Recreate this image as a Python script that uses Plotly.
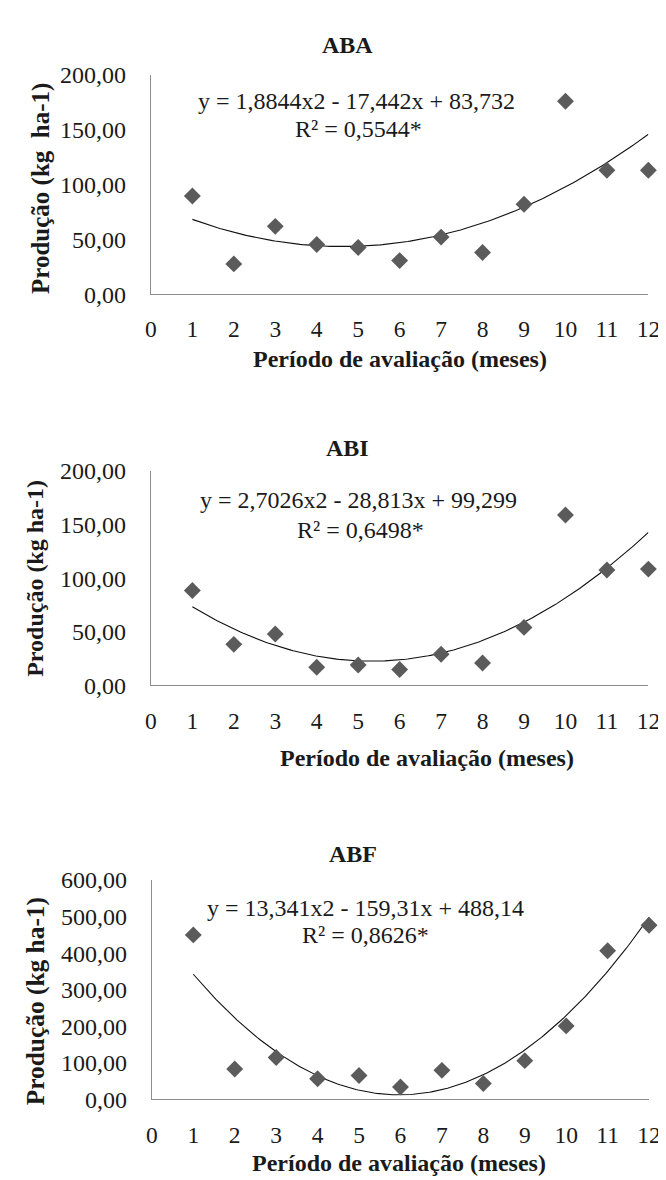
import numpy as np
import plotly.graph_objects as go

# ---------------- data ----------------
months = [1, 2, 3, 4, 5, 6, 7, 8, 9, 10, 11, 12]
aba = [89.5, 27.6, 61.8, 45.2, 42.5, 30.6, 52.0, 38.0, 82.0, 175.9, 112.9, 113.0]
abi = [88.5, 38.2, 47.9, 16.8, 18.9, 14.7, 29.0, 20.8, 54.0, 158.8, 107.5, 108.4]
abf = [449.8, 83.2, 114.5, 56.3, 65.3, 34.0, 79.5, 43.5, 106.0, 201.0, 406.5, 476.0]

# quadratic trend coefficients printed on the chart (a, b, c)
aba_coef = [1.8844, -17.442, 83.732]
abi_coef = [2.7026, -28.813, 99.299]
abf_coef = [13.341, -159.31, 488.14]

titles = ["ABA", "ABI", "ABF"]
equations = ["y = 1,8844x2 - 17,442x + 83,732",
             "y = 2,7026x2 - 28,813x + 99,299",
             "y = 13,341x2 - 159,31x + 488,14"]
r2_labels = ["R² = 0,5544*", "R² = 0,6498*", "R² = 0,8626*"]
y_titles = ["Produção (kg  ha-1)", "Produção (kg ha-1)", "Produção (kg ha-1)"]
x_title = "Período de avaliação (meses)"
x_ticks = [0, 1, 2, 3, 4, 5, 6, 7, 8, 9, 10, 11, 12]
y_ticks_small = [0, 50, 100, 150, 200]
y_ticks_big = [0, 100, 200, 300, 400, 500, 600]

# ---------------- layout geometry (pixels) ----------------
W, H = 666, 1180
panels = [
    dict(x0=140.7, x1=652.0, ytop=55.0, ybot=279.3, ymax=200, yt=y_ticks_small,
         title=(342.5, 25), eq=(352.5, 81.7), r2=(353.7, 110), xt=(397, 346),
         ytl=(28.5, 171), ytsize=25),
    dict(x0=140.7, x1=652.0, ytop=460.0, ybot=679.3, ymax=200, yt=y_ticks_small,
         title=(342.5, 436.7), eq=(354.5, 490), r2=(355.8, 520), xt=(424, 753.3),
         ytl=(22, 570), ytsize=24),
    dict(x0=141.7, x1=652.7, ytop=878.3, ybot=1102.7, ymax=600, yt=y_ticks_big,
         title=(348, 851.7), eq=(361, 906.7), r2=(361.7, 935), xt=(396, 1167.5),
         ytl=(23, 1002), ytsize=25.4),
]
series = [aba, abi, abf]
coefs = [aba_coef, abi_coef, abf_coef]


def px(x):
    return x / W


def py(y):
    return 1 - y / H


SERIF = "Liberation Serif"
MARK = "#5b5b5b"
AXIS = "#8c8c8c"
TXT = "#1a1a1a"

fig = go.Figure()
annotations = []
layout = {}

for i, (p, vals, cf) in enumerate(zip(panels, series, coefs)):
    sfx = "" if i == 0 else str(i + 1)
    xa, ya = "x" + sfx, "y" + sfx

    xs = np.linspace(months[0], months[-1], 200)
    ys = cf[0] * xs ** 2 + cf[1] * xs + cf[2]
    fig.add_trace(go.Scatter(x=xs, y=ys, mode="lines", xaxis=xa, yaxis=ya,
                             line=dict(color="#111111", width=1.1), showlegend=False,
                             hoverinfo="skip"))
    fig.add_trace(go.Scatter(x=months, y=vals, mode="markers", xaxis=xa, yaxis=ya,
                             marker=dict(symbol="diamond", size=13, color=MARK,
                                         line=dict(width=0)),
                             cliponaxis=False, showlegend=False))

    layout["xaxis" + sfx] = dict(
        domain=[px(p["x0"]), px(p["x1"])], anchor=ya, range=[0, 12],
        tickmode="array", tickvals=x_ticks, ticktext=[str(t) for t in x_ticks],
        showline=True, linecolor=AXIS, linewidth=1.3, showgrid=False, zeroline=False,
        ticks="", ticklabelstandoff=14,
        tickfont=dict(family=SERIF, size=23.5, color=TXT), fixedrange=True)
    layout["yaxis" + sfx] = dict(
        domain=[py(p["ybot"]), py(p["ytop"])], anchor=xa, range=[0, p["ymax"]],
        tickmode="array", tickvals=p["yt"], tickformat=".2f",
        showline=True, linecolor=AXIS, linewidth=1.3, showgrid=False, zeroline=False,
        ticks="", ticklabelstandoff=19,
        tickfont=dict(family=SERIF, size=24, color=TXT), fixedrange=True)

    common = dict(xref="paper", yref="paper", showarrow=False,
                  xanchor="center", yanchor="middle")
    annotations.append(dict(text="<b>%s</b>" % titles[i], x=px(p["title"][0]), y=py(p["title"][1]),
                            font=dict(family=SERIF, size=24, color=TXT), **common))
    annotations.append(dict(text=equations[i], x=px(p["eq"][0]), y=py(p["eq"][1]),
                            font=dict(family=SERIF, size=24, color=TXT), **common))
    annotations.append(dict(text=r2_labels[i], x=px(p["r2"][0]), y=py(p["r2"][1]),
                            font=dict(family=SERIF, size=24, color=TXT), **common))
    annotations.append(dict(text="<b>%s</b>" % x_title, x=px(p["xt"][0]), y=py(p["xt"][1]),
                            font=dict(family=SERIF, size=24, color=TXT), **common))
    annotations.append(dict(text="<b>%s</b>" % y_titles[i], x=px(p["ytl"][0]), y=py(p["ytl"][1]),
                            textangle=-90, font=dict(family=SERIF, size=p["ytsize"], color=TXT),
                            **common))

fig.update_layout(
    width=W, height=H,
    margin=dict(l=0, r=0, t=0, b=0),
    paper_bgcolor="white", plot_bgcolor="white",
    separators=",.",
    font=dict(family=SERIF),
    annotations=annotations,
    **layout,
)

fig.write_html("out.html", config={"displayModeBar": False})
